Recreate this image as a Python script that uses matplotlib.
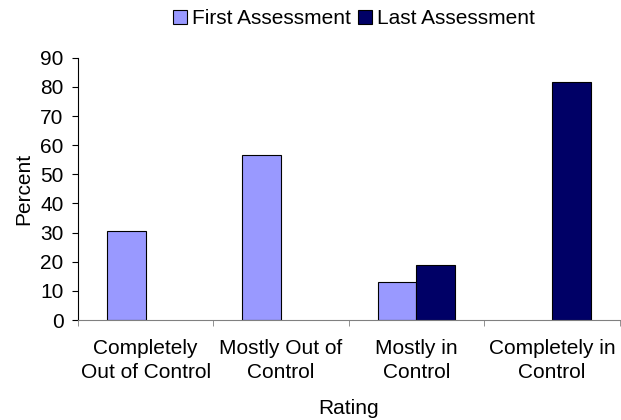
import numpy as np
from matplotlib import pyplot as plt

# datos
categorias = ["Completely\nOut of Control", "Mostly Out of\nControl",
              "Mostly in\nControl", "Completely in\nControl"]
primera = [30.4, 56.7, 12.9, 0]
ultima = [0, 0, 18.9, 81.8]
series = ["First Assessment", "Last Assessment"]

plt.rcParams["font.family"] = ["Liberation Sans", "DejaVu Sans"]
plt.rcParams["font.size"] = 15

fig = plt.figure(figsize=(6.21, 4.2), dpi=100)
ax = fig.add_axes([0.1256, 0.238, 0.872, 0.6245])

x = np.arange(len(categorias))
ancho = 1 / 3.5
# sin borde en barras de valor cero
borde1 = [0.8 if v > 0 else 0 for v in primera]
borde2 = [0.8 if v > 0 else 0 for v in ultima]
ax.bar(x - ancho / 2, primera, ancho, color="#9999ff", edgecolor="black",
       linewidth=borde1, label=series[0])
ax.bar(x + ancho / 2, ultima, ancho, color="#000066", edgecolor="black",
       linewidth=borde2, label=series[1])

ax.set_xlim(-0.5, len(categorias) - 0.5)
ax.set_ylim(0, 90)
ax.set_yticks(range(0, 91, 10))
ax.set_xticks(x)
ax.set_xticklabels(categorias, linespacing=1.3)
ax.set_xticks(np.arange(-0.5, len(categorias), 1), minor=True)
ax.tick_params(axis="x", which="major", length=0, pad=14)
ax.tick_params(axis="x", which="minor", length=4.5, color="#808080")
ax.tick_params(axis="y", length=4.5, pad=6)

ax.spines["top"].set_visible(False)
ax.spines["right"].set_visible(False)
ax.spines["bottom"].set_color("#808080")

ax.set_xlabel("Rating", labelpad=12)
ax.set_ylabel("Percent", labelpad=5)

leg = ax.legend(loc="lower center", bbox_to_anchor=(0.51, 1.08), ncol=2, frameon=False,
                handlelength=0.65, handleheight=0.65, handletextpad=0.25, columnspacing=0.35,
                borderaxespad=0)
for h in leg.legend_handles:
    h.set_edgecolor("black")
    h.set_linewidth(0.8)

fig.savefig("out.png", dpi=100)
plt.close(fig)
